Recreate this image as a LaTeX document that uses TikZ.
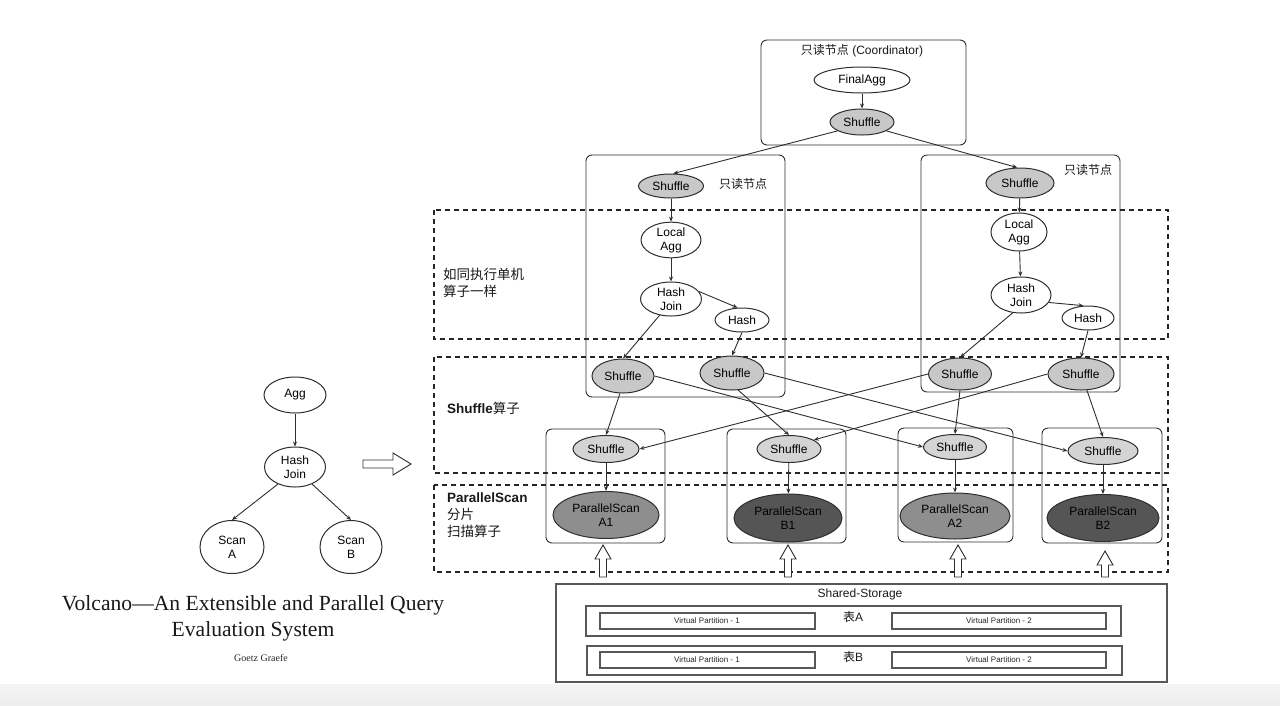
\documentclass[tikz,border=0pt]{standalone}
\usepackage{fontspec}
\setmainfont{Liberation Sans}
\newfontfamily\cjk{Noto Sans CJK SC}
\newfontfamily\paperfont{Liberation Serif}
\usetikzlibrary{arrows.meta, shapes.geometric, positioning}
\definecolor{lineGrey}{HTML}{2E2E2E}
\definecolor{shufGrey}{HTML}{C8C8C8}
\definecolor{shufLight}{HTML}{D4D4D4}
\definecolor{scanAGrey}{HTML}{8E8E8E}
\definecolor{scanBGrey}{HTML}{555555}
\definecolor{bandGrey}{HTML}{EDEDED}
\tikzset{
  sz/.style 2 args = {minimum width=#1pt, minimum height=#2pt},
  op/.style        = {ellipse, draw=lineGrey, line width=1pt, fill=white,
                      inner sep=0pt, align=center, text=black,
                      font=\fontsize{12}{14}\selectfont},
  shuf/.style      = {op, fill=shufGrey},
  lshuf/.style     = {op, fill=shufLight},
  scanA/.style     = {op, fill=scanAGrey},
  scanB/.style     = {op, fill=scanBGrey},
  nodebox/.style   = {draw=lineGrey, line width=0.9pt, rounded corners=6pt},
  storebox/.style  = {draw=lineGrey!80, line width=1.1pt},
  zone/.style      = {draw=black!85, line width=1.8pt, dash pattern=on 5pt off 4pt},
  flow/.style      = {draw=lineGrey, line width=0.9pt, -{Stealth[length=5pt, width=4pt]}},
  hollow/.style    = {draw=lineGrey, line width=0.9pt, fill=white},
  lbl/.style       = {inner sep=0pt, text=black!90, font=\fontsize{12}{14}\selectfont},
  zlbl/.style      = {inner sep=0pt, anchor=west, align=left, text=black!90,
                      font=\fontsize{13.5}{17}\selectfont},
  vplbl/.style     = {inner sep=0pt, text=black!85, font=\fontsize{8}{9}\selectfont},
  paper/.style     = {inner sep=0pt, align=center, text=black!90,
                      font=\paperfont\fontsize{21.6}{26}\selectfont},
}

\begin{document}
\begin{tikzpicture}[x=1pt, y=-1pt]
  \useasboundingbox (0,0) rectangle (1280,705);
  \shade[top color=bandGrey!60, bottom color=bandGrey] (0,684) rectangle (1280,705);

  % dashed stages
  \draw[zone] (434,210) rectangle (1168,339);
  \draw[zone] (434,357) rectangle (1168,473);
  \draw[zone] (434,485) rectangle (1168,572);
  \node[zlbl] (z1lbl) at (443,283) {\cjk 如同执行单机\\\cjk 算子一样};
  \node[zlbl] (z2lbl) at (447,408) {{\bfseries Shuffle}{\cjk 算子}};
  \node[zlbl, anchor=north west] (z3lbl) at (447,493) {{\bfseries ParallelScan}\\{\cjk 分片}\\{\cjk 扫描算子}};

  % coordinator
  \draw[nodebox] (761,40) rectangle (966,145);
  \node[lbl] (coordlbl) at (862,51) {{\cjk 只读节点} (Coordinator)};
  \node[op, sz={96}{26}] (fagg) at (862,80) {FinalAgg};
  \node[shuf, sz={64}{26}] (cshuf) at (862,122) {Shuffle};

  % read-only nodes
  \draw[nodebox] (586,155) rectangle (785,397);
  \node[lbl] (llbl) at (743,184) {\cjk 只读节点};
  \node[shuf, sz={65}{24}] (lshuf) at (671,186) {Shuffle};
  \node[op, sz={60}{34}] (lagg) at (671,240) {Local\\Agg};
  \node[op, sz={61}{34}] (lhj) at (671,299) {Hash\\Join};
  \node[op, sz={54}{24}] (lhash) at (742,320) {Hash};

  \draw[nodebox] (921,155) rectangle (1120,392);
  \node[lbl] (rlbl) at (1088,170) {\cjk 只读节点};
  \node[shuf, sz={68}{30}] (rshuf) at (1020,183) {Shuffle};
  \node[op, sz={56}{38}] (ragg) at (1019,232) {Local\\Agg};
  \node[op, sz={60}{36}] (rhj) at (1021,295) {Hash\\Join};
  \node[op, sz={52}{24}] (rhash) at (1088,318) {Hash};

  \node[shuf, sz={62}{34}] (u1) at (623,376) {Shuffle};
  \node[shuf, sz={64}{34}] (u2) at (732,373) {Shuffle};
  \node[shuf, sz={63}{32}] (u3) at (960,374) {Shuffle};
  \node[shuf, sz={66}{32}] (u4) at (1081,374) {Shuffle};

  % scan nodes
  \draw[nodebox] (546,429) rectangle (665,543);
  \draw[nodebox] (727,429) rectangle (846,543);
  \draw[nodebox] (898,428) rectangle (1013,542);
  \draw[nodebox] (1042,428) rectangle (1162,543);
  \node[lshuf, sz={66}{27}] (l1) at (606,449) {Shuffle};
  \node[lshuf, sz={64}{27}] (l2) at (789,449) {Shuffle};
  \node[lshuf, sz={63}{25}] (l3) at (955,447) {Shuffle};
  \node[lshuf, sz={70}{27}] (l4) at (1103,451) {Shuffle};
  \node[scanA, sz={106}{47}] (pa1) at (606,515) {ParallelScan\\A1};
  \node[scanB, sz={108}{48}] (pb1) at (788,518) {ParallelScan\\B1};
  \node[scanA, sz={110}{46}] (pa2) at (955,516) {ParallelScan\\A2};
  \node[scanB, sz={112}{47}] (pb2) at (1103,518) {ParallelScan\\B2};

  \draw[flow] (fagg) -- (cshuf);
  \draw[flow] (cshuf.200) -- (lshuf.80);
  \draw[flow] (cshuf.340) -- (rshuf.100);
  \draw[flow] (lshuf) -- (lagg);
  \draw[flow] (lagg) -- (lhj);
  \draw[flow] (lhj.15) -- (lhash.110);
  \draw[flow] (rshuf) -- (ragg);
  \draw[flow] (ragg) -- (rhj);
  \draw[flow] (rhj.345) -- (rhash.110);
  \draw[flow] (lhj.235) -- (u1.north);
  \draw[flow] (lhash.south) -- (u2.north);
  \draw[flow] (rhj.245) -- (u3.north);
  \draw[flow] (rhash.south) -- (u4.north);
  \draw[flow] (u1.260) -- (l1.north);
  \draw[flow] (u1.east) -- (l3.west);
  \draw[flow] (u2.290) -- (l2.north);
  \draw[flow] (u2.east) -- (l4.west);
  \draw[flow] (u3.west) -- (l1.east);
  \draw[flow] (u3.south) -- (l3.north);
  \draw[flow] (u4.west) -- (l2.20);
  \draw[flow] (u4.290) -- (l4.north);
  \draw[flow] (l1) -- (pa1);
  \draw[flow] (l2) -- (pb1);
  \draw[flow] (l3) -- (pa2);
  \draw[flow] (l4) -- (pb2);

  % storage reads
  \foreach \x/\t in {603/545, 788/545, 958/545, 1105/551}
    \draw[hollow] (\x,\t) -- (\x+8,\t+14) -- (\x+3.5,\t+14) -- (\x+3.5,577)
      -- (\x-3.5,577) -- (\x-3.5,\t+14) -- (\x-8,\t+14) -- cycle;

  % shared storage
  \draw[storebox] (556,584) rectangle (1167,682);
  \node[lbl] (storelbl) at (860,594) {Shared-Storage};
  \draw[storebox] (586,606) rectangle (1121,636);
  \node[lbl] (talbl) at (853,617) {{\cjk 表}A};
  \draw[storebox] (600,613) rectangle (815,629);
  \node[vplbl] (a1lbl) at (707,621) {Virtual Partition - 1};
  \draw[storebox] (892,613) rectangle (1106,629);
  \node[vplbl] (a2lbl) at (999,621) {Virtual Partition - 2};
  \draw[storebox] (587,646) rectangle (1122,675);
  \node[lbl] (tblbl) at (853,657) {{\cjk 表}B};
  \draw[storebox] (600,652) rectangle (815,668);
  \node[vplbl] (b1lbl) at (707,660) {Virtual Partition - 1};
  \draw[storebox] (892,652) rectangle (1106,668);
  \node[vplbl] (b2lbl) at (999,660) {Virtual Partition - 2};

  % volcano plan
  \node[op, sz={62}{36}] (agg) at (295,395) {Agg};
  \node[op, sz={61}{40}] (thj) at (295,467) {Hash\\Join};
  \node[op, sz={64}{53}] (scana) at (232,547) {Scan\\A};
  \node[op, sz={62}{53}] (scanb) at (351,547) {Scan\\B};
  \draw[flow] (agg) -- (thj);
  \draw[flow] (thj.225) -- (scana.north);
  \draw[flow] (thj.315) -- (scanb.north);
  \draw[hollow] (363,460) -- (393,460) -- (393,453) -- (411,464) -- (393,475)
    -- (393,468) -- (363,468) -- cycle;

  \node[paper] (ttl) at (253,618) {Volcano—An Extensible and Parallel Query\\Evaluation System};
  \node[inner sep=0pt, text=black!85, font=\paperfont\fontsize{10}{12}\selectfont] (auth) at (261,658) {Goetz Graefe};
\end{tikzpicture}
\end{document}
